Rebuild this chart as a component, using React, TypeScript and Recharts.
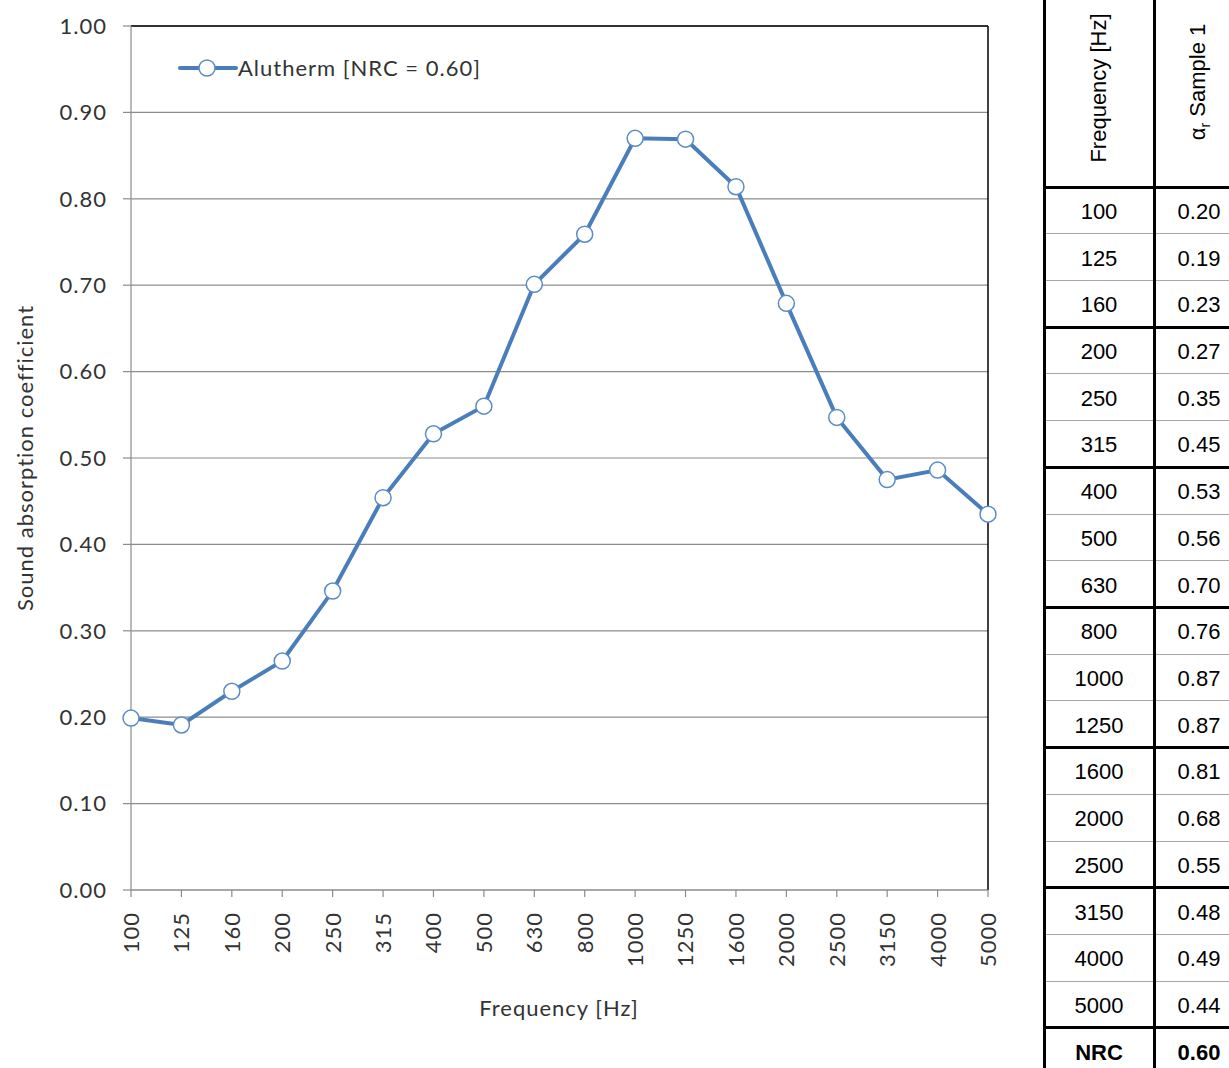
import React from 'react';
import { LineChart, Line, XAxis, YAxis, CartesianGrid, ReferenceLine, Legend } from 'recharts';

const frequencies = ['100', '125', '160', '200', '250', '315', '400', '500', '630', '800', '1000', '1250', '1600', '2000', '2500', '3150', '4000', '5000'];
const absorption = [0.199, 0.191, 0.23, 0.265, 0.346, 0.454, 0.528, 0.56, 0.701, 0.759, 0.87, 0.869, 0.814, 0.679, 0.547, 0.475, 0.486, 0.435];
const tableValues = ['0.20', '0.19', '0.23', '0.27', '0.35', '0.45', '0.53', '0.56', '0.70', '0.76', '0.87', '0.87', '0.81', '0.68', '0.55', '0.48', '0.49', '0.44'];
const nrcLabel = 'NRC';
const nrcValue = '0.60';
const yTicks = [0, 0.1, 0.2, 0.3, 0.4, 0.5, 0.6, 0.7, 0.8, 0.9, 1.0];
const seriesName = 'Alutherm [NRC = 0.60]';

const data = frequencies.map((f, i) => ({ freq: f, alpha: absorption[i] }));

const LINE_BLUE = '#4a7ebb';
const CHART_FONT = 'Lato, "Noto Sans", sans-serif';
const TABLE_FONT = '"Liberation Sans", Arial, sans-serif';
const SPACING = 1;

const XTick = ({ x, y, payload }: any) => (
  <g transform={`translate(${x},${y + 15})`}>
    <text transform="rotate(-90)" textAnchor="end" dy="0.36em" fontSize={22} letterSpacing={SPACING} fill="#333" fontFamily={CHART_FONT}>
      {payload.value}
    </text>
  </g>
);

const LegendContent = () => (
  <div style={{ display: 'flex', alignItems: 'center', fontFamily: CHART_FONT, fontSize: 22, letterSpacing: SPACING, color: '#333' }}>
    <svg width={60} height={24}>
      <line x1={2} y1={12} x2={58} y2={12} stroke={LINE_BLUE} strokeWidth={4} strokeLinecap="round" />
      <circle cx={29} cy={12} r={8} fill="#fff" stroke="#5b8cc8" strokeWidth={1.5} />
    </svg>
    <span style={{ whiteSpace: 'nowrap' }}>{seriesName}</span>
  </div>
);

const HEADER_H = 187;
const ROW_H = 46.72;
const COL1 = 1044;
const COL2 = 1154;
const COL_END = 1250;

function SoundTable() {
  const rows = [...frequencies.map((f, i) => ({ f, v: tableValues[i], bold: false })), { f: nrcLabel, v: nrcValue, bold: true }];
  const cellText: React.CSSProperties = {
    position: 'absolute',
    display: 'flex',
    alignItems: 'center',
    justifyContent: 'center',
    boxSizing: 'border-box',
    paddingTop: 3,
    fontFamily: TABLE_FONT,
    fontSize: 22,
    color: '#000',
  };
  return (
    <div style={{ position: 'absolute', left: 0, top: 0, width: 1229, height: 1068 }}>
      {/* header */}
      <div style={{ position: 'absolute', left: 1099, top: 88, transform: 'translate(-50%,-50%) rotate(-90deg)', fontFamily: TABLE_FONT, fontSize: 22, whiteSpace: 'nowrap', color: '#000' }}>
        Frequency [Hz]
      </div>
      <div style={{ position: 'absolute', left: 1199, top: 82, transform: 'translate(-50%,-50%) rotate(-90deg)', fontFamily: TABLE_FONT, fontSize: 22, whiteSpace: 'nowrap', color: '#000' }}>
        α<sub style={{ fontSize: 14 }}>r</sub> Sample 1
      </div>
      {rows.map((r, i) => {
        const top = HEADER_H + i * ROW_H;
        const thick = i % 3 === 0;
        return (
          <React.Fragment key={r.f}>
            <div style={{ position: 'absolute', left: COL1, width: COL_END - COL1, top: top - (thick ? 1.5 : 0.5), height: thick ? 3 : 1, background: thick ? '#000' : '#a6a6a6' }} />
            <div style={{ ...cellText, left: COL1, width: COL2 - COL1, top, height: ROW_H, fontWeight: r.bold ? 700 : 400 }}>{r.f}</div>
            <div style={{ ...cellText, left: COL2, width: 90, top, height: ROW_H, fontWeight: r.bold ? 700 : 400 }}>{r.v}</div>
          </React.Fragment>
        );
      })}
      <div style={{ position: 'absolute', left: COL1 - 1.5, top: 0, width: 3, height: 1068, background: '#000' }} />
      <div style={{ position: 'absolute', left: COL2 - 1.5, top: 0, width: 3, height: 1068, background: '#000' }} />
    </div>
  );
}

export default function App() {
  return (
    <div style={{ position: 'absolute', left: 0, top: 0, width: 1229, height: 1068, overflow: 'hidden', background: '#fff' }}>
      <div style={{ position: 'absolute', left: 0, top: 0 }}>
        <LineChart width={1030} height={1068} data={data} margin={{ top: 26, right: 42, bottom: 0, left: 0 }}>
          <CartesianGrid vertical={false} stroke="#8c8c8c" strokeWidth={1.2} />
          <ReferenceLine y={1} stroke="#000" strokeWidth={1.5} />
          <ReferenceLine x="5000" stroke="#000" strokeWidth={1.5} />
          <XAxis
            dataKey="freq"
            scale="point"
            padding={{ left: 0, right: 0 }}
            height={178}
            interval={0}
            tickSize={7}
            tickMargin={0}
            tick={<XTick />}
            axisLine={{ stroke: '#8c8c8c', strokeWidth: 1.2 }}
            tickLine={{ stroke: '#8c8c8c', strokeWidth: 1.2 }}
            label={{
              content: () => (
                <text x={559} y={1007} textAnchor="middle" dominantBaseline="central" fontSize={22} letterSpacing={SPACING} fill="#333" fontFamily={CHART_FONT}>
                  Frequency [Hz]
                </text>
              ),
            }}
          />
          <YAxis
            width={131}
            domain={[0, 1]}
            ticks={yTicks}
            interval={0}
            tickSize={8}
            tickMargin={16}
            tickFormatter={(v: number) => v.toFixed(2)}
            tick={{ fontSize: 22, fill: '#333', fontFamily: CHART_FONT, letterSpacing: SPACING }}
            axisLine={{ stroke: '#8c8c8c', strokeWidth: 1.2 }}
            tickLine={{ stroke: '#8c8c8c', strokeWidth: 1.2 }}
            label={{
              content: () => (
                <text x={24} y={458} transform="rotate(-90 24 458)" textAnchor="middle" dominantBaseline="central" fontSize={22} letterSpacing={SPACING} fill="#333" fontFamily={CHART_FONT}>
                  Sound absorption coefficient
                </text>
              ),
            }}
          />
          <Legend
            layout="horizontal"
            verticalAlign="middle"
            align="center"
            wrapperStyle={{ left: 178, top: 54, width: 360, height: 24 }}
            content={<LegendContent />}
          />
          <Line
            type="linear"
            dataKey="alpha"
            name={seriesName}
            stroke={LINE_BLUE}
            strokeWidth={4}
            dot={{ r: 8, fill: '#fff', stroke: '#5b8cc8', strokeWidth: 1.5 }}
            activeDot={false}
            isAnimationActive={false}
          />
        </LineChart>
      </div>
      <SoundTable />
    </div>
  );
}
